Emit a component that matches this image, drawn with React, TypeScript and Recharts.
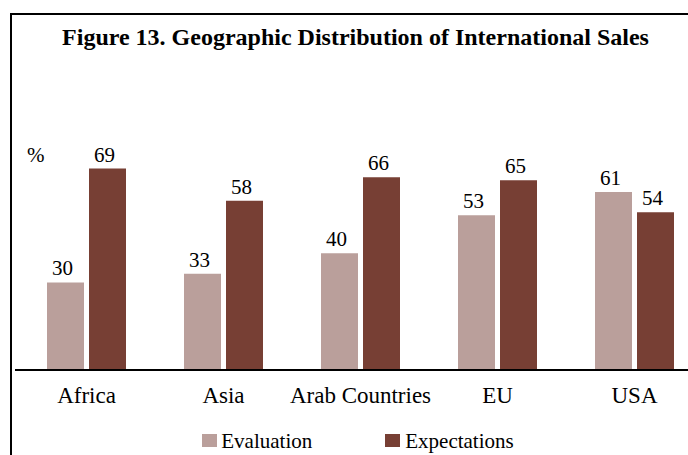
import React from 'react';
import { BarChart, Bar, XAxis, YAxis, Legend, LabelList } from 'recharts';

const regions = ['Africa', 'Asia', 'Arab Countries', 'EU', 'USA'];
const evaluation = [30, 33, 40, 53, 61];
const expectations = [69, 58, 66, 65, 54];

const seriesNames = ['Evaluation', 'Expectations'];
const colors = ['#BA9F9B', '#773F34'];

const data = regions.map((r, i) => ({
  region: r,
  evaluation: evaluation[i],
  expectations: expectations[i],
}));

const FONT = 'Liberation Serif';

const LegendContent = () => (
  <div
    style={{
      width: 716,
      height: 30,
      display: 'flex',
      alignItems: 'center',
      justifyContent: 'center',
      fontFamily: FONT,
      fontSize: 21,
      color: '#000',
    }}
  >
    {seriesNames.map((name, i) => (
      <div key={name} style={{ display: 'flex', alignItems: 'center', marginRight: i === 0 ? 73 : 0 }}>
        <span style={{ width: 15, height: 13, background: colors[i], display: 'inline-block', marginRight: i === 0 ? 4 : 5 }} />
        <span style={{ lineHeight: '30px', position: 'relative', top: 1 }}>{name}</span>
      </div>
    ))}
  </div>
);

export default function App() {
  return (
    <div
      style={{
        position: 'fixed',
        left: 0,
        top: 0,
        width: 688,
        height: 455,
        overflow: 'hidden',
        background: '#fff',
        fontFamily: FONT,
      }}
    >
      <div
        style={{
          position: 'absolute',
          left: 10,
          top: 13,
          width: 760,
          height: 500,
          borderLeft: '2px solid #000',
          borderTop: '2px solid #000',
        }}
      />
      <svg style={{ position: 'absolute', left: 0, top: 0, fontFamily: FONT }} width={688} height={455}>
        <text x={355.5} y={45} textAnchor="middle" fontFamily={FONT} fontWeight="bold" fontSize={24} fill="#000">
          Figure 13. Geographic Distribution of International Sales
        </text>
        <text x={27} y={162} fontFamily={FONT} fontSize={21} fill="#000">
          %
        </text>
      </svg>
      <div style={{ position: 'absolute', left: 0, top: 0, fontFamily: FONT }}>
        <BarChart
          width={720}
          height={455}
          data={data}
          margin={{ top: 136.4, left: 15, right: 17, bottom: 0 }}
          barCategoryGap={29}
          barGap={5}
          style={{ fontFamily: FONT }}
        >
          <XAxis
            dataKey="region"
            height={55}
            padding={{ left: 3, right: 0 }}
            axisLine={{ stroke: '#000', strokeWidth: 2 }}
            tickLine={false}
            tickSize={0}
            tickMargin={17}
            interval={0}
            tick={{ fontFamily: FONT, fontSize: 23, fill: '#000' }}
          />
          <YAxis hide domain={[0, 80]} />
          <Legend
            verticalAlign="bottom"
            align="left"
            wrapperStyle={{ left: 0, bottom: 0, width: 716, height: 30 }}
            content={() => <LegendContent />}
          />
          <Bar dataKey="evaluation" name={seriesNames[0]} fill={colors[0]} isAnimationActive={false}>
            <LabelList
              dataKey="evaluation"
              position="top"
              offset={7}
              dx={-3}
              fontFamily={FONT}
              fontSize={21}
              fill="#000"
            />
          </Bar>
          <Bar dataKey="expectations" name={seriesNames[1]} fill={colors[1]} isAnimationActive={false}>
            <LabelList
              dataKey="expectations"
              position="top"
              offset={7}
              dx={-3}
              fontFamily={FONT}
              fontSize={21}
              fill="#000"
            />
          </Bar>
        </BarChart>
      </div>
    </div>
  );
}
